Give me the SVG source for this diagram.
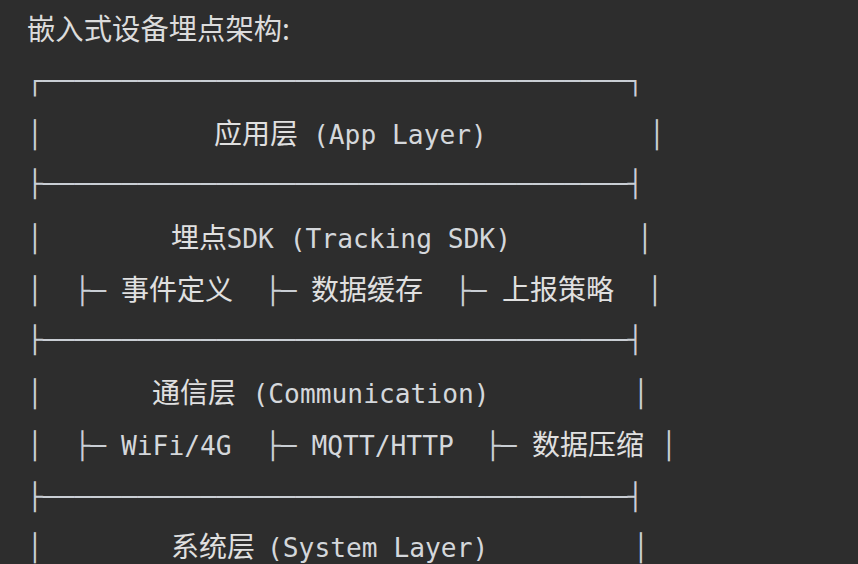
<svg xmlns="http://www.w3.org/2000/svg" width="858" height="564" viewBox="0 0 858 564">
<style>
.bg{fill:#2d2d2d}
.mono{font-family:"DejaVu Sans Mono","Liberation Mono",monospace;font-size:26.25px;fill:#d4d7db;white-space:pre}
.box{font-family:"DejaVu Sans Mono","Liberation Mono",monospace;font-size:26.25px;fill:#c9ced4;white-space:pre}
.cjk{font-family:"Noto Sans CJK SC","Noto Sans",sans-serif;font-size:28px;fill:#e0e0e0}
.title{font-family:"Noto Sans CJK SC","Noto Sans",sans-serif;font-size:29px;fill:#dcdcdc}
</style>
<rect class="bg" x="0" y="0" width="858" height="564"/>
<g id="title">
<text class="title" x="27" y="40" textLength="263" lengthAdjust="spacingAndGlyphs">嵌入式设备埋点架构:</text>
</g>
<g id="connectors">
<text class="box" x="27" y="90">┌─────────────────────────────────────┐</text>
<text class="box" x="27" y="193">├─────────────────────────────────────┤</text>
<text class="box" x="27" y="349">├─────────────────────────────────────┤</text>
<text class="box" x="27" y="506">├─────────────────────────────────────┤</text>
<text class="box" x="27" y="144">│</text>
<text class="box" x="649" y="144">│</text>
<text class="box" x="27" y="248">│</text>
<text class="box" x="637" y="248">│</text>
<text class="box" x="27" y="300">│</text>
<text class="box" x="647" y="300">│</text>
<text class="box" x="27" y="403">│</text>
<text class="box" x="633" y="403">│</text>
<text class="box" x="27" y="455">│</text>
<text class="box" x="661" y="455">│</text>
<text class="box" x="27" y="557">│</text>
<text class="box" x="633" y="557">│</text>
</g>
<g id="layer-app">
<text class="cjk" x="214" y="144">应用层</text>
<text class="mono" x="313" y="144">(App Layer)</text>
</g>
<g id="layer-sdk">
<text class="cjk" x="171" y="248">埋点</text>
<text class="mono" x="226.5" y="248">SDK (Tracking SDK)</text>
<g id="sdk-event">
<text class="box" x="74.4" y="300">├─</text>
<text class="cjk" x="121" y="300">事件定义</text>
</g>
<g id="sdk-cache">
<text class="box" x="265" y="300">├─</text>
<text class="cjk" x="311" y="300">数据缓存</text>
</g>
<g id="sdk-report">
<text class="box" x="455" y="300">├─</text>
<text class="cjk" x="502" y="300">上报策略</text>
</g>
</g>
<g id="layer-comm">
<text class="cjk" x="152" y="403">通信层</text>
<text class="mono" x="252.5" y="403">(Communication)</text>
<g id="comm-net">
<text class="box" x="74.4" y="455">├─</text>
<text class="mono" x="121" y="455">WiFi/4G</text>
</g>
<g id="comm-proto">
<text class="box" x="265" y="455">├─</text>
<text class="mono" x="311.5" y="455">MQTT/HTTP</text>
</g>
<g id="comm-compress">
<text class="box" x="485" y="455">├─</text>
<text class="cjk" x="532" y="455">数据压缩</text>
</g>
</g>
<g id="layer-sys">
<text class="cjk" x="171" y="557">系统层</text>
<text class="mono" x="267" y="557">(System Layer)</text>
</g>
</svg>
